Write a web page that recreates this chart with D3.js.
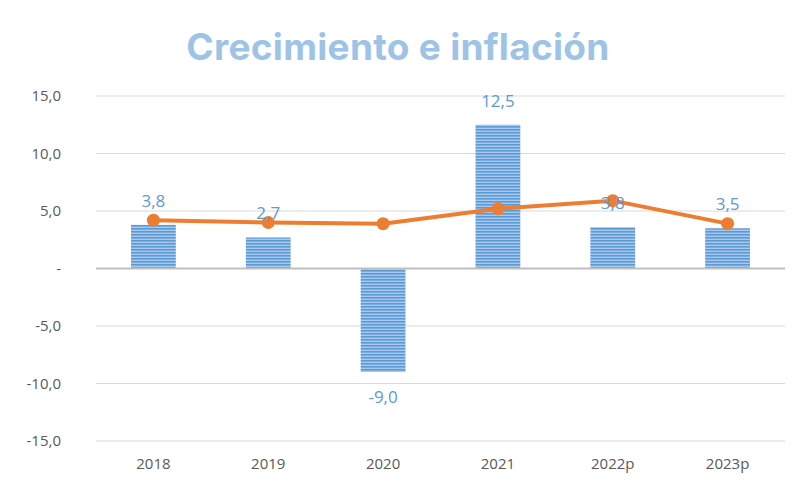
<!DOCTYPE html>
<html>
<head>
<meta charset="utf-8">
<script src="https://cdn.jsdelivr.net/npm/d3@7/dist/d3.min.js"></script>
<style>
body { margin: 0; background: #fff; }
svg { display: block; }
.tick text { font-family: "Open Sans", sans-serif; }
</style>
</head>
<body>
<div id="chart"></div>
<script>
const years = ['2018', '2019', '2020', '2021', '2022p', '2023p']
const growth = [3.8, 2.7, -9.0, 12.5, 3.6, 3.5]
const growthLabels = ['3,8', '2,7', '-9,0', '12,5', '3,8', '3,5']
const inflation = [4.2, 4.0, 3.9, 5.2, 5.9, 3.9]
const yTicks = [-15, -10, -5, 0, 5, 10, 15]

const width = 795, height = 484
const margin = {left: 96, right: 10, top: 96, bottom: 43}

const svg = d3.select('#chart').append('svg')
.attr('width', width)
.attr('height', height)

// striped fill for the bars
const defs = svg.append('defs')
const pat = defs.append('pattern')
.attr('id', 'stripes')
.attr('patternUnits', 'userSpaceOnUse')
.attr('width', 8)
.attr('height', 3)
pat.append('rect').attr('width', 8).attr('height', 3).attr('fill', '#a9c9ec')
pat.append('rect').attr('width', 8).attr('height', 1.6).attr('fill', '#5b9bd5')

const x = d3.scaleBand()
.domain(years)
.range([margin.left, width - margin.right])
.paddingInner(0.61)
.paddingOuter(0.305)

const y = d3.scaleLinear()
.domain([-15, 15])
.range([height - margin.bottom, margin.top])

svg.append('text')
.attr('x', 398)
.attr('y', 60)
.attr('text-anchor', 'middle')
.attr('font-family', 'Inter, "Noto Sans", sans-serif')
.attr('font-weight', 700)
.attr('font-size', 37)
.attr('letter-spacing', 0.3)
.attr('fill', '#9dc3e6')
.text('Crecimiento e inflación')

// grid
svg.append('g')
.selectAll('line')
.data(yTicks.filter(d => d !== 0))
.join('line')
.attr('x1', margin.left)
.attr('x2', width - margin.right)
.attr('y1', d => y(d))
.attr('y2', d => y(d))
.attr('stroke', '#d9d9d9')
.attr('stroke-width', 1)

// y labels
const yAxis = svg.append('g')
.attr('transform', `translate(${margin.left - 32},0)`)
.call(d3.axisLeft(y).tickValues(yTicks).tickSize(0)
  .tickFormat(d => d === 0 ? '-' : d3.format('.1f')(d).replace('.', ',').replace('\u2212', '-')))
yAxis.select('.domain').remove()
yAxis.selectAll('text')
.attr('font-size', 15)
.attr('fill', '#595959')
.attr('dx', 0)

// bars
svg.append('g')
.selectAll('rect')
.data(growth)
.join('rect')
.attr('x', (d, i) => x(years[i]))
.attr('width', x.bandwidth())
.attr('y', d => y(Math.max(0, d)))
.attr('height', d => Math.abs(y(d) - y(0)))
.attr('fill', 'url(#stripes)')

// zero line
svg.append('line')
.attr('x1', margin.left)
.attr('x2', width - margin.right)
.attr('y1', y(0))
.attr('y2', y(0))
.attr('stroke', '#bfbfbf')
.attr('stroke-width', 2)

// x labels
const xAxis = svg.append('g')
.attr('transform', `translate(0,${height - margin.bottom + 14})`)
.call(d3.axisBottom(x).tickSize(0))
xAxis.select('.domain').remove()
xAxis.selectAll('text')
.attr('font-size', 15)
.attr('fill', '#595959')

// inflation line
const line = d3.line()
.x((d, i) => x(years[i]) + x.bandwidth() / 2)
.y(d => y(d))

svg.append('path')
.datum(inflation)
.attr('d', line)
.attr('fill', 'none')
.attr('stroke', '#ed7d31')
.attr('stroke-width', 4)
.attr('stroke-linejoin', 'round')

svg.append('g')
.selectAll('circle')
.data(inflation)
.join('circle')
.attr('cx', (d, i) => x(years[i]) + x.bandwidth() / 2)
.attr('cy', d => y(d))
.attr('r', 6.5)
.attr('fill', '#ed7d31')

// bar value labels
svg.append('g')
.selectAll('text')
.data(growth)
.join('text')
.attr('x', (d, i) => x(years[i]) + x.bandwidth() / 2)
.attr('y', (d, i) => d >= 0 ? y(d) - 18 : y(d) + 31)
.attr('text-anchor', 'middle')
.attr('font-family', '"Open Sans", sans-serif')
.attr('font-size', 17)
.attr('fill', '#5b9bd5')
.text((d, i) => growthLabels[i])
</script>
</body>
</html>
